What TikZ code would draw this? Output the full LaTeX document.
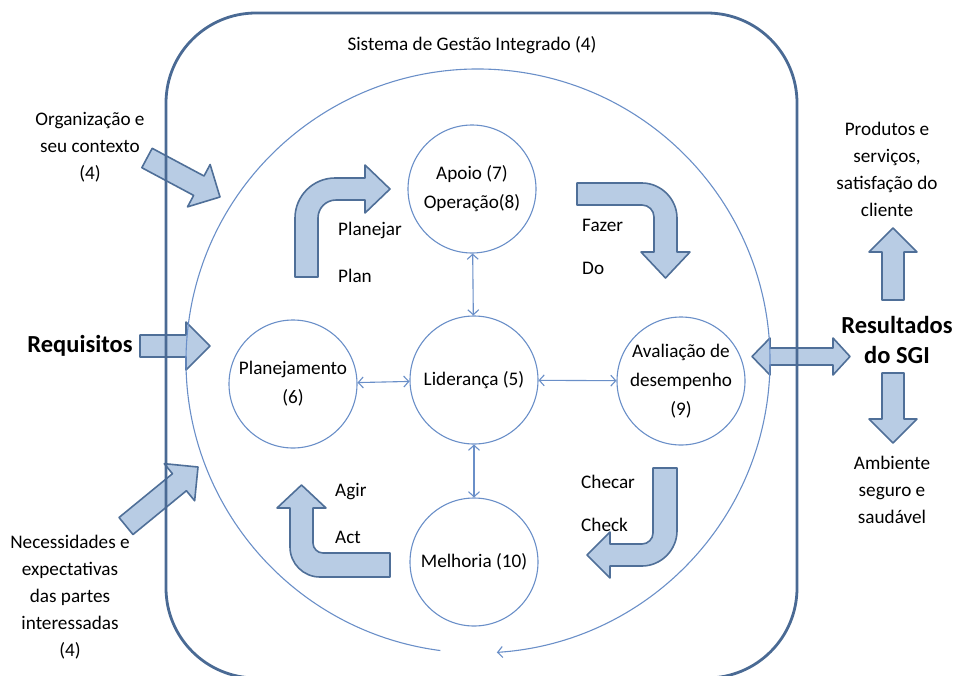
\documentclass[tikz,border=0pt]{standalone}
\usepackage{fontspec}
\setmainfont{Carlito}
\usetikzlibrary{calc,arrows.meta}
\definecolor{frameblue}{HTML}{4A6A94}
\definecolor{lineblue}{HTML}{6A8FC8}
\definecolor{arrowfill}{HTML}{B8CCE4}
\definecolor{arrowline}{HTML}{4F6F98}
% straight block arrow from tail to tip
\newcommand{\fatarrow}[2]{%
  \coordinate (fa-h) at ($(#2)!24pt!(#1)$);
  \draw[blockarrow] ($(#1)!11pt!90:(#2)$) -- ($(fa-h)!11pt!90:(#2)$)
    -- ($(fa-h)!24pt!90:(#2)$) -- (#2) -- ($(fa-h)!24pt!-90:(#2)$)
    -- ($(fa-h)!11pt!-90:(#2)$) -- ($(#1)!11pt!-90:(#2)$) -- cycle;}

\begin{document}
\begin{tikzpicture}[x=1pt, y=-1pt,
    proc/.style={circle, draw=lineblue, line width=1.1pt, minimum size=128pt,
      inner sep=0pt, align=center, font=\fontsize{19.2}{29}\selectfont},
    txt/.style={align=center, inner sep=0pt, font=\fontsize{19.2}{27}\selectfont},
    bigtxt/.style={align=center, inner sep=0pt, font=\fontsize{24.5}{30}\selectfont\bfseries},
    link/.style={draw=lineblue, line width=1.1pt,
      {Straight Barb[length=5pt,width=11pt]}-{Straight Barb[length=5pt,width=11pt]}},
    blockarrow/.style={fill=arrowfill, draw=arrowline, line width=1.6pt, line join=round}]
    \useasboundingbox (0,0) rectangle (956,675);
    % Curved PDCA arrows
    \draw[blockarrow] (295,277) -- (295,218) .. controls (295,196) and (313,178) .. (335,178)
      -- (365,178) -- (365,165) -- (390,189) -- (365,213) -- (365,200) -- (336,200)
      .. controls (326,200) and (318,208) .. (318,218) -- (318,277) -- cycle;
    \draw[blockarrow] (577,183) -- (642,183) .. controls (661,183) and (677,199) .. (677,218)
      -- (677,252) -- (690,252) -- (665.5,278) -- (641,252) -- (654,252) -- (654,217)
      .. controls (654,210.4) and (648.6,205) .. (642,205) -- (577,205) -- cycle;
    \draw[blockarrow] (653,468) -- (677,468) -- (677,531) .. controls (677,550) and (661,566) .. (642,566)
      -- (610,566) -- (610,578) -- (587,555) -- (610,532) -- (610,544) -- (642,544)
      .. controls (648,544) and (653,539) .. (653,533) -- cycle;
    \draw[blockarrow] (390,553) -- (390,577) -- (320,577) .. controls (303.4,577) and (290,563.6) .. (290,547)
      -- (290,508) -- (277,508) -- (301.5,485) -- (326,508) -- (313,508) -- (313,543)
      .. controls (313,548.5) and (317.5,553) .. (323,553) -- cycle;
    % Input and output arrows
    \coordinate (orgtail) at (147,158);  \coordinate (orgtip) at (220,197);
    \coordinate (reqtail) at (140,346);  \coordinate (reqtip) at (210,346);
    \coordinate (nectail) at (126,526);  \coordinate (nectip) at (198,467);
    \coordinate (uptail) at (893,300);   \coordinate (uptip) at (893,228);
    \coordinate (dntail) at (893,373);   \coordinate (dntip) at (893,443);
    \fatarrow{orgtail}{orgtip}
    \fatarrow{reqtail}{reqtip}
    \fatarrow{nectail}{nectip}
    \fatarrow{uptail}{uptip}
    \fatarrow{dntail}{dntip}
    \draw[blockarrow] (752,356.5) -- (770,338) -- (770,348) -- (833,348) -- (833,338) -- (850,356.5)
      -- (833,375) -- (833,365) -- (770,365) -- (770,375) -- cycle;
    % Frame and cycle
    \draw[frameblue, line width=2.8pt, rounded corners=90pt] (166,13) rectangle (797,678);
    \draw[lineblue, line width=1.1pt, -{Straight Barb[length=5pt,width=11pt]}]
      (478,361) ++(97.4:292) arc[start angle=97.4, end angle=446.3, radius=292];
    \node[txt] (ttl) at (472,45) {Sistema de Gestão Integrado (4)};
    % Clauses
    \node[proc] (apo) at (472,189) {Apoio (7)\\Operação(8)};
    \node[proc] (lid) at (474,380) {Liderança (5)};
    \node[proc] (pla) at (293,384) {Planejamento\\(6)};
    \node[proc] (ava) at (681,381) {Avaliação de\\desempenho\\(9)};
    \node[proc] (mel) at (474,562) {Melhoria (10)};
    \draw[link] (lid) -- (apo);
    \draw[link] (lid) -- (pla);
    \draw[link] (lid) -- (ava);
    \draw[link] (lid) -- (mel);
    % PDCA labels
    \node[txt, anchor=west] (planejar) at (338,230) {Planejar};
    \node[txt, anchor=west] (plan) at (338,276) {Plan};
    \node[txt, anchor=west] (fazer) at (582,225) {Fazer};
    \node[txt, anchor=west] (do) at (582,268) {Do};
    \node[txt, anchor=west] (checar) at (581,482) {Checar};
    \node[txt, anchor=west] (check) at (581,525) {Check};
    \node[txt, anchor=west] (agir) at (335,492) {Agir};
    \node[txt, anchor=west] (act) at (335,537) {Act};
    % Inputs and outputs
    \node[txt] (org) at (90,147) {Organização e\\seu contexto\\(4)};
    \node[bigtxt] (req) at (80,346) {Requisitos};
    \node[txt] (nec) at (70,597) {Necessidades e\\expectativas\\das partes\\interessadas\\(4)};
    \node[txt] (prod) at (887,169) {Produtos e\\serviços,\\satisfação do\\cliente};
    \node[bigtxt] (res) at (897,340) {Resultados\\do SGI};
    \node[txt] (amb) at (892,490) {Ambiente\\seguro e\\saudável};
\end{tikzpicture}
\end{document}
